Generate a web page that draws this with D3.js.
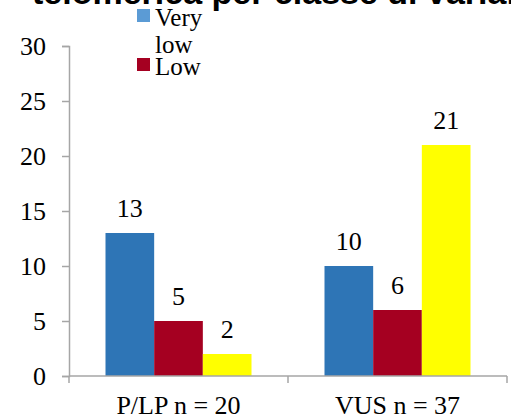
<!DOCTYPE html>
<html>
<head>
<meta charset="utf-8">
<script src="https://cdn.jsdelivr.net/npm/d3@7"></script>
</head>
<body style="margin:0">
<svg id="chart" width="511" height="419" font-family="Liberation Serif"></svg>
<script>
// Categories and series counts
const categories = ["P/LP n = 20", "VUS n = 37"];
const seriesColors = ["#2E75B6", "#A50021", "#FFFF00"];
const veryLow = [13, 10];
const low = [5, 6];
const normal = [2, 21];
const yTicks = [0, 5, 10, 15, 20, 25, 30];
const titleText = "telomerica per classe di varianti";
// Legend entries shown (label lines, swatch colour)
const legendLines = [["Very", "low"], ["Low"]];
const legendColors = ["#5B9BD5", "#A50021"];

const series = [veryLow, low, normal];

const svg = d3.select("#chart");
const axisColor = "#A6A6A6";
const SERIF = '"Liberation Serif"';
const SANS = '"Liberation Sans"';

const margin = { left: 69, right: 4, top: 46, bottom: 43 };
const width = 511, height = 419;

const x = d3.scaleBand()
  .domain(categories)
  .range([margin.left, width - margin.right])
  .paddingInner(0)
  .paddingOuter(0);

const inner = d3.scaleBand()
  .domain(d3.range(series.length))
  .range([0, x.bandwidth()])
  .paddingOuter(0.75);

const y = d3.scaleLinear()
  .domain([0, 30])
  .range([height - margin.bottom, margin.top]);

function serifText(sel, size) {
  return sel.attr("font-family", "Liberation Serif")
    .style("font-family", SERIF)
    .style("font-size", size + "px")
    .attr("fill", "#000");
}

// Title (partially above the canvas)
svg.append("text")
  .attr("x", 32)
  .attr("y", 4)
  .style("font-family", SANS)
  .style("font-weight", "bold")
  .style("font-size", "34px")
  .attr("fill", "#000")
  .text(titleText);

// Y axis
const yAxis = d3.axisLeft(y).tickValues(yTicks).tickSize(7).tickPadding(16);
const gy = svg.append("g")
  .attr("transform", `translate(${margin.left},0)`)
  .call(yAxis)
  .attr("font-family", "Liberation Serif");
gy.select(".domain").attr("stroke", axisColor).attr("stroke-width", 1.5);
gy.selectAll(".tick line").attr("stroke", axisColor).attr("stroke-width", 1.5);
serifText(gy.selectAll(".tick text"), 26).attr("dy", "0.33em");

// Bars with value labels
categories.forEach((cat, ci) => {
  series.forEach((vals, si) => {
    svg.append("rect")
      .attr("x", x(cat) + inner(si))
      .attr("y", y(vals[ci]))
      .attr("width", inner.bandwidth())
      .attr("height", y(0) - y(vals[ci]))
      .attr("fill", seriesColors[si]);
    serifText(svg.append("text"), 26)
      .attr("x", x(cat) + inner(si) + inner.bandwidth() / 2)
      .attr("y", y(vals[ci]) - 16)
      .attr("text-anchor", "middle")
      .text(vals[ci]);
  });
});

// X axis with ticks on band boundaries
const gx = svg.append("g")
  .attr("transform", `translate(0,${y(0)})`);
gx.append("line")
  .attr("x1", margin.left).attr("x2", width - margin.right)
  .attr("stroke", axisColor).attr("stroke-width", 1.5);
const boundaries = categories.map(c => x(c)).concat([x(categories[categories.length - 1]) + x.bandwidth()]);
gx.selectAll(".bt").data(boundaries).enter().append("line")
  .attr("x1", d => d).attr("x2", d => d)
  .attr("y1", 0).attr("y2", 7)
  .attr("stroke", axisColor).attr("stroke-width", 1.5);
serifText(gx.selectAll(".cl").data(categories).enter().append("text"), 26)
  .attr("x", d => x(d) + x.bandwidth() / 2)
  .attr("y", 38)
  .attr("text-anchor", "middle")
  .text(d => d);

// Legend
const legend = svg.append("g");
const legendTops = [26, 75];
legendLines.forEach((lines, i) => {
  legend.append("rect")
    .attr("x", 137)
    .attr("y", legendTops[i] - 17)
    .attr("width", 13)
    .attr("height", 13)
    .attr("fill", legendColors[i]);
  lines.forEach((ln, j) => {
    serifText(legend.append("text"), 25)
      .attr("x", 155)
      .attr("y", legendTops[i] + j * 27)
      .text(ln);
  });
});
</script>
</body>
</html>
